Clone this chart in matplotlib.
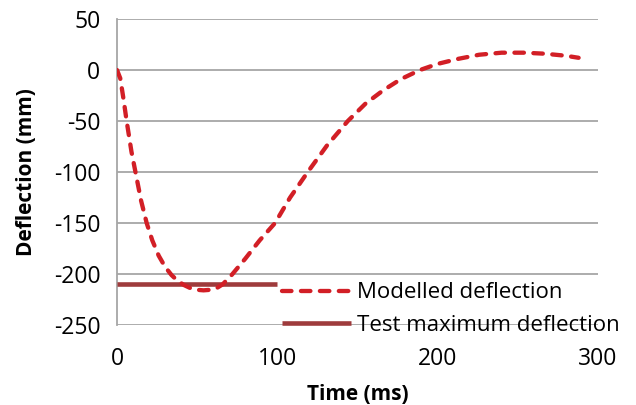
import matplotlib
matplotlib.use('Agg')
import matplotlib.pyplot as plt
from matplotlib.lines import Line2D

# modelled deflection curve
time_ms = [0, 2, 4, 6, 9, 11.5, 15, 18.5, 22, 26, 30, 34, 38, 42, 46, 50,
           54, 58, 62, 66, 71.5, 80, 89, 98.6, 108, 119, 131, 144, 155, 166,
           177, 189, 200, 213, 226, 240, 254, 267, 280, 288]
deflection_mm = [0, -8, -28, -50, -80, -100, -128, -150, -167, -182, -193,
                 -201, -207, -211, -214, -215.5, -216, -215.5, -214, -210,
                 -201, -185, -167, -150, -125, -100, -74, -50, -33, -20, -9,
                 0, 6, 11, 15, 17, 17, 16, 14, 12]

# test maximum deflection
test_time = [0, 100]
test_defl = [-210, -210]

x_ticks = [0, 100, 200, 300]
y_ticks = [50, 0, -50, -100, -150, -200, -250]

labels = ['Modelled deflection', 'Test maximum deflection']

red = '#d21f26'
darkred = '#9e3b3c'
grey = '#a6a6a6'

plt.rcParams['font.family'] = ['Open Sans', 'DejaVu Sans']
plt.rcParams['axes.unicode_minus'] = False

fig = plt.figure(figsize=(6.36, 4.05), dpi=100)
ax = fig.add_axes([0.184, 0.1975, 0.756, 0.7555])

ax.plot(test_time, test_defl, color=darkred, lw=3.3, solid_capstyle='butt', zorder=3)
ax.plot(time_ms, deflection_mm, color=red, lw=3.1, dashes=(2.2, 2.2),
        dash_capstyle='round', zorder=4)

ax.set_xlim(0, 300)
ax.set_ylim(-250, 50)
ax.set_xticks(x_ticks)
ax.set_yticks(y_ticks)
ax.yaxis.grid(True, color=grey, lw=1.3, zorder=0)
ax.set_axisbelow(True)
for s in ['top', 'right', 'bottom']:
    ax.spines[s].set_visible(False)
ax.spines['left'].set_color(grey)
ax.spines['left'].set_linewidth(1.3)
ax.tick_params(length=0, labelsize=16.5, colors='black')
ax.tick_params(axis='y', pad=12)
ax.tick_params(axis='x', pad=16)

ax.set_xlabel('Time (ms)', fontsize=15, fontweight='bold', labelpad=9)
ax.set_ylabel('Deflection (mm)', fontsize=15, fontweight='bold', labelpad=12)

handles = [Line2D([], [], color=red, lw=3.1, dashes=(2.2, 2.2), dash_capstyle='round'),
           Line2D([], [], color=darkred, lw=3.3, solid_capstyle='butt')]
fig.legend(handles, labels, loc='center left', bbox_to_anchor=(0.443, 0.237),
           frameon=False, fontsize=16, handlelength=3.1, handletextpad=0.3,
           borderpad=0, borderaxespad=0, labelspacing=0.5)

plt.savefig('out.png', dpi=100)
plt.close()
